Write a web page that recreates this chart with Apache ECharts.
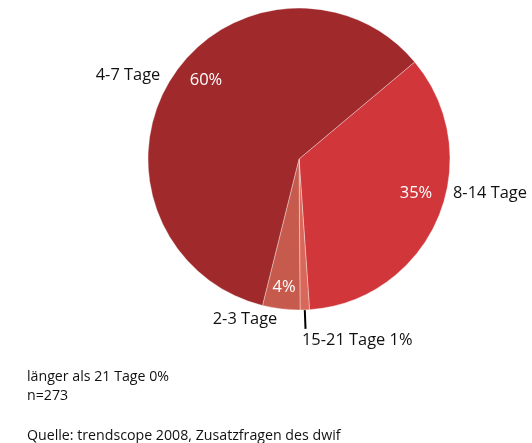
<!DOCTYPE html>
<html><head><meta charset="utf-8">
<script src="https://cdn.jsdelivr.net/npm/echarts@6/dist/echarts.min.js"></script>
<style>html,body{margin:0;padding:0;background:#fff}#c{width:532px;height:443px}</style>
</head><body><div id="c"></div>
<script>
// ---- data ----
const categories = ['8-14 Tage', '15-21 Tage', '2-3 Tage', '4-7 Tage'];
const values = [35, 1, 4, 60];
const notes = ['länger als 21 Tage 0%', 'n=273'];
const source = 'Quelle: trendscope 2008, Zusatzfragen des dwif';

// ---- style / layout ----
const colors = ['#d0363a', '#d9685a', '#c65b4d', '#a0292c'];
const FONT = '"Open Sans", sans-serif';
const CENTER = [299, 159];
const RADIUS = 151;
const pctPos = { '8-14 Tage': [416, 193], '2-3 Tage': [284, 287], '4-7 Tage': [206, 80] };
const namePos = { '8-14 Tage': [453, 193, 'left'], '15-21 Tage': [302, 340, 'left'],
                  '2-3 Tage': [245, 319, 'center'], '4-7 Tage': [128, 75, 'center'] };
const nameWithPct = ['15-21 Tage'];

const chart = echarts.init(document.getElementById('c'), null, { renderer: 'canvas' });

const sliceData = categories.map((n, i) => ({
  name: n, value: values[i],
  itemStyle: { color: colors[i] },
  label: { show: !!pctPos[n] }
}));
const nameData = categories.map((n, i) => ({
  name: n, value: values[i],
  labelLine: { show: nameWithPct.indexOf(n) >= 0 }
}));

const noteStyle = { fontFamily: FONT, fontSize: 14.2, fontWeight: 'normal', color: '#111', lineHeight: 18.6 };

chart.setOption({
  animation: false,
  title: [
    { text: notes.join('\n'), left: 22, top: 363, textStyle: noteStyle },
    { text: source, left: 22, top: 422, textStyle: noteStyle }
  ],
  series: [
    {
      type: 'pie', center: CENTER, radius: RADIUS, startAngle: 40, clockwise: true,
      avoidLabelOverlap: false, silent: true,
      itemStyle: { borderColor: 'rgba(255,255,255,0.45)', borderWidth: 0.8 },
      label: { position: 'inside', formatter: '{c}%', color: '#fff', fontFamily: FONT, fontSize: 16.5 },
      labelLine: { show: false },
      labelLayout: function (p) {
        const pos = pctPos[categories[p.dataIndex]];
        return pos ? { x: pos[0], y: pos[1], align: 'center', verticalAlign: 'middle' } : {};
      },
      data: sliceData
    },
    {
      type: 'pie', center: CENTER, radius: RADIUS, startAngle: 40, clockwise: true,
      avoidLabelOverlap: false, silent: true,
      itemStyle: { color: 'rgba(0,0,0,0)', borderWidth: 0 },
      label: {
        position: 'outside', color: '#111', fontFamily: FONT, fontSize: 16.4,
        formatter: function (p) { return nameWithPct.indexOf(p.name) >= 0 ? p.name + ' ' + p.value + '%' : p.name; }
      },
      labelLine: { length: 19, length2: 0, smooth: false, lineStyle: { color: '#000', width: 2 } },
      labelLayout: function (p) {
        const pos = namePos[categories[p.dataIndex]];
        const r = { x: pos[0], y: pos[1], align: pos[2], verticalAlign: 'middle' };
        if (p.labelLinePoints) r.labelLinePoints = p.labelLinePoints;
        return r;
      },
      data: nameData
    }
  ]
});
</script></body></html>
